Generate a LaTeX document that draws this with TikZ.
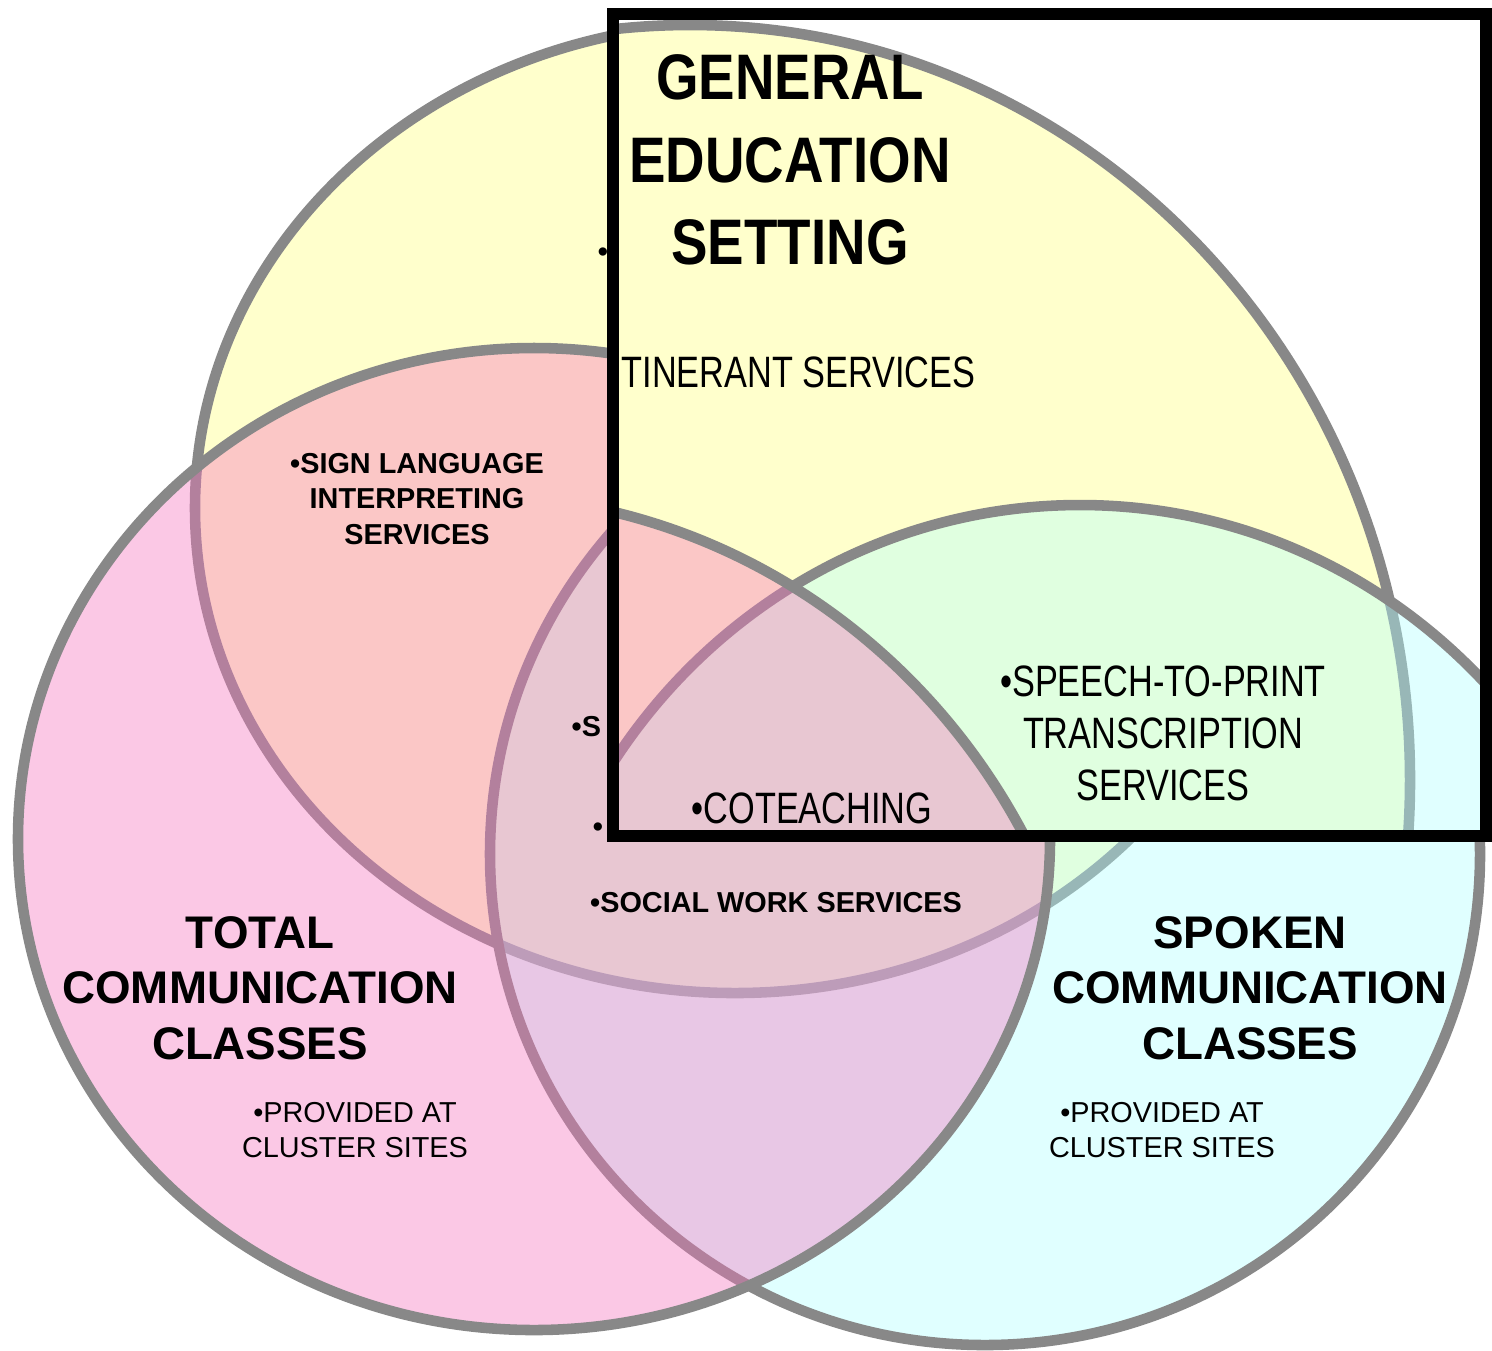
\documentclass[tikz,border=0pt]{standalone}
\usepackage{fontspec}
\setmainfont{Liberation Sans}
\newfontfamily\narrowfont[FakeStretch=0.78]{Liberation Sans}
\newfontfamily\titlefont[FakeStretch=0.85]{Liberation Sans}
\definecolor{yellowc}{RGB}{255,255,204}
\definecolor{pinkc}{RGB}{245,117,190}
\definecolor{cyanc}{RGB}{178,255,255}
\definecolor{ringgray}{RGB}{136,136,136}
\tikzset{
  ring/.style={draw=ringgray, line width=3pt},
  setname/.style={font=\fontsize{13}{15.8}\selectfont\bfseries, align=center, inner sep=0},
  service/.style={font=\fontsize{8.2}{10.1}\selectfont\bfseries, align=center, inner sep=0},
  siteinfo/.style={font=\fontsize{8.2}{10.1}\selectfont, align=center, inner sep=0},
  insetname/.style={font=\titlefont\fontsize{18.3}{23.4}\selectfont\bfseries, align=center, inner sep=0},
  inservice/.style={font=\narrowfont\fontsize{12.5}{14.8}\selectfont, align=center, inner sep=0}
}
\begin{document}
\begin{tikzpicture}[x=0.01cm, y=-0.01cm]
  \useasboundingbox (0,0) rectangle (1492,1350);
  % the three settings
  \draw[ring, fill=yellowc] (735,508) ellipse [x radius=540, y radius=485];
  \draw[ring, fill=cyanc, fill opacity=0.4] (985,854) ellipse [x radius=495, y radius=491];
  \draw[ring, fill=pinkc, fill opacity=0.4] (534,839) ellipse [x radius=516, y radius=491];
  \node[service] (sign) at (417,499) {•SIGN LANGUAGE\\INTERPRETING\\SERVICES};
  \node[service] (soc) at (776,903) {•SOCIAL WORK SERVICES};
  \node[service, anchor=west] (s) at (571,727) {•S};
  \node[service] (dota) at (598,830) {•};
  \node[service] (dotb) at (603,255) {•};
  \node[setname] (tot) at (260,988) {TOTAL\\COMMUNICATION\\CLASSES};
  \node[siteinfo] (totsite) at (355,1130) {•PROVIDED AT\\CLUSTER SITES};
  \node[setname] (spo) at (1250,988) {SPOKEN\\COMMUNICATION\\CLASSES};
  \node[siteinfo] (sposite) at (1162,1130) {•PROVIDED AT\\CLUSTER SITES};
  % inset
  \begin{scope}
    \fill[white] (613,14) rectangle (1486,836);
    \clip (613,14) rectangle (1486,836);
    \draw[ring, fill=yellowc] (690,780) ellipse [x radius=720, y radius=755];
    \draw[ring, fill=cyanc, fill opacity=0.4] (1080,1080) ellipse [x radius=560, y radius=575];
    \draw[ring, fill=pinkc, fill opacity=0.4] (470,1145) ellipse [x radius=630, y radius=650];
  \end{scope}
  \node[insetname] (gen) at (790,160) {GENERAL\\EDUCATION\\SETTING};
  \node[inservice, anchor=west] (itin) at (621,372) {TINERANT SERVICES};
  \node[inservice] (cot) at (812,808) {•COTEACHING};
  \node[inservice] (stp) at (1163,733) {•SPEECH-TO-PRINT\\TRANSCRIPTION\\SERVICES};
  \draw[line width=3.6pt] (613,14) rectangle (1486,836);
\end{tikzpicture}
\end{document}
